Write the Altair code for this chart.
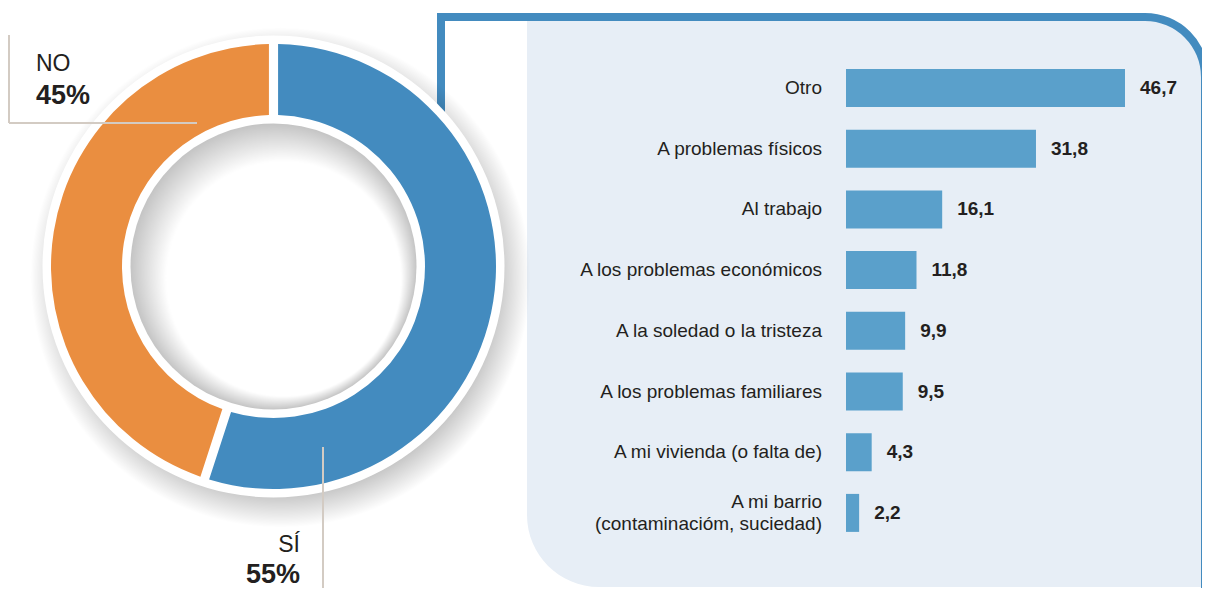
import math
import altair as alt
import pandas as pd

# ---------------- data ----------------
categories = [
    "Otro",
    "A problemas físicos",
    "Al trabajo",
    "A los problemas económicos",
    "A la soledad o la tristeza",
    "A los problemas familiares",
    "A mi vivienda (o falta de)",
    "A mi barrio\n(contaminacióm, suciedad)",
]
values = [46.7, 31.8, 16.1, 11.8, 9.9, 9.5, 4.3, 2.2]
value_labels = ["46,7", "31,8", "16,1", "11,8", "9,9", "9,5", "4,3", "2,2"]

donut_labels = ["SÍ", "NO"]
donut_values = [55, 45]
donut_order = [0, 1]

# ---------------- styles ----------------
FONT = "Liberation Sans"
TXT = "#231f20"
BLUE = "#438bbf"
ORANGE = "#ea8e40"
BAR = "#5aa0cb"
PANEL = "#e7eef6"
LINE = "#d3cbc3"

W, H = 1194, 580
CX, CY = 265.5, 258.5
FS = 19
LH = 22

one = pd.DataFrame({"a": [0]})
bars_df = pd.DataFrame({
    "cat": categories,
    "value": values,
    "lbl": value_labels,
    "nl": [c.count("\n") + 1 for c in categories],
})
donut_df = pd.DataFrame({"label": donut_labels, "value": donut_values, "ord": donut_order})


def rect(x, x2, y, y2, color, **kw):
    return alt.Chart(one).mark_rect(color=color, **kw).encode(
        x=alt.value(x), x2=alt.value(x2), y=alt.value(y), y2=alt.value(y2)
    )


def circle(cx, cy, r, fill, r2=0):
    return alt.Chart(one).mark_arc(
        theta=0, theta2=2 * math.pi, radius=r, radius2=r2, fill=fill
    ).encode(x=alt.value(cx), y=alt.value(cy))


def rule(x, x2, y, y2):
    return alt.Chart(one).mark_rule(color=LINE, strokeWidth=2).encode(
        x=alt.value(x), x2=alt.value(x2), y=alt.value(y), y2=alt.value(y2)
    )


def label(x, y, text, size, weight="normal", align="left"):
    return alt.Chart(one).mark_text(
        text=text, font=FONT, fontSize=size, fontWeight=weight, color=TXT,
        align=align, baseline="alphabetic"
    ).encode(x=alt.value(x), y=alt.value(y))


# panel & frame
panel = rect(519, 1197, 13, 579, PANEL, cornerRadiusBottomLeft=72, cornerRadiusTopRight=56)
frame_v = rect(429, 437, 5, 110, BLUE)
frame_h = rect(429, 1137, 5, 13, BLUE)
frame_corner = alt.Chart(one).mark_arc(
    theta=0, theta2=math.pi / 2, radius=64, radius2=56, color=BLUE
).encode(x=alt.value(1137), y=alt.value(69))
frame_r = rect(1193, 1201, 69, 580, BLUE)

# donut shading
shadow = circle(
    CX + 7, CY + 11, 250,
    {
        "gradient": "radial",
        "x1": 0.5, "y1": 0.5, "r1": 0,
        "x2": 0.5, "y2": 0.5, "r2": 0.5,
        "stops": [
            {"offset": 0.87, "color": "rgba(0,0,0,0.22)"},
            {"offset": 1.0, "color": "rgba(0,0,0,0)"},
        ],
    },
)
white_disc = circle(CX, CY, 231, "#ffffff")

donut = alt.Chart(donut_df).mark_arc(radius=222.5, radius2=151.5, padAngle=0.034).encode(
    x=alt.value(CX),
    y=alt.value(CY),
    theta=alt.Theta("value:Q", stack=True),
    order=alt.Order("ord:Q"),
    color=alt.Color(
        "label:N",
        scale=alt.Scale(domain=donut_labels, range=[BLUE, ORANGE]),
        legend=None,
    ),
)

hole = circle(
    CX, CY, 143,
    {
        "gradient": "radial",
        "x1": 0.7, "y1": 0.74, "r1": 0,
        "x2": 0.5, "y2": 0.5, "r2": 0.5,
        "stops": [
            {"offset": 0.0, "color": "#ffffff"},
            {"offset": 0.82, "color": "#ffffff"},
            {"offset": 1.0, "color": "#c4c4c4"},
        ],
    },
)

# donut labels
no_lines = rule(1, 1, 27, 115) + rule(1, 189, 115, 115)
si_line = rule(315, 315, 439, 580)
no_txt = label(28, 63, "NO", 23) + label(28, 96, "45%", 27, "bold")
si_txt = label(292, 544, "SÍ", 23, align="right") + label(292, 575, "55%", 27, "bold", align="right")

# bars
y_enc = alt.Y(
    "cat:N", sort=None, axis=None,
    scale=alt.Scale(range=[49.65, 535.25], paddingInner=0.374, paddingOuter=0.187),
)
x_enc = alt.X(
    "value:Q", axis=None,
    scale=alt.Scale(domain=[0, 46.7], range=[838, 1117], nice=False, zero=False),
)
bars = alt.Chart(bars_df).mark_bar(color=BAR).encode(x=x_enc, y=y_enc)

cat_base = alt.Chart(bars_df).encode(x=alt.value(814), y=y_enc, text="cat:N")
cat_text_1 = cat_base.transform_filter("datum.nl == 1").mark_text(
    align="right", baseline="middle", font=FONT, fontSize=FS, color=TXT,
)
cat_text_2 = cat_base.transform_filter("datum.nl == 2").mark_text(
    align="right", baseline="middle", font=FONT, fontSize=FS, color=TXT,
    lineBreak="\n", lineHeight=LH, dy=-LH / 2,
)
val_text = alt.Chart(bars_df).mark_text(
    align="left", baseline="middle", dx=15, font=FONT, fontSize=FS,
    fontWeight="bold", color=TXT,
).encode(x=x_enc, y=y_enc, text="lbl:N")

chart = alt.layer(
    panel, frame_v, frame_h, frame_corner, frame_r,
    shadow, white_disc, donut, hole,
    no_lines, si_line, no_txt, si_txt,
    bars, cat_text_1, cat_text_2, val_text,
).properties(
    width=W, height=H, padding=0, autosize=alt.AutoSizeParams(type="none"),
    background="#ffffff",
).configure_view(stroke=None)

chart.save("out.html", embed_options={"renderer": "svg", "actions": False})
